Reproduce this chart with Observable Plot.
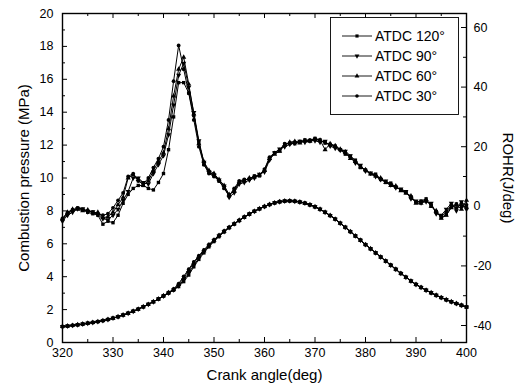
<!DOCTYPE html>
<html><head><meta charset="utf-8">
<script src="https://cdn.jsdelivr.net/npm/d3@7"></script>
<script src="https://cdn.jsdelivr.net/npm/@observablehq/plot@0.6"></script>
<style>html,body{margin:0;padding:0;background:#fff;} #chart{width:520px;height:392px;}</style>
</head><body><div id="chart"></div>
<script>
// Crank angle (deg), one sample per degree
const angles = d3.range(320, 401);
const seriesNames = ["ATDC 120°", "ATDC 90°", "ATDC 60°", "ATDC 30°"];

// Combustion pressure (MPa)
const p120 = [0.97,1.00,1.04,1.08,1.12,1.17,1.22,1.27,1.33,1.40,1.48,1.57,1.67,1.78,1.90,2.03,2.17,2.32,2.48,2.65,
2.82,3.00,3.18,3.40,3.70,4.10,4.60,5.05,5.45,5.82,6.14,6.44,6.72,6.97,7.19,7.41,7.61,7.80,7.97,8.12,
8.26,8.38,8.48,8.55,8.59,8.60,8.58,8.53,8.46,8.36,8.24,8.09,7.91,7.71,7.49,7.24,6.99,6.73,6.47,6.21,
5.94,5.69,5.44,5.19,4.94,4.69,4.44,4.19,3.96,3.73,3.52,3.34,3.17,3.01,2.86,2.72,2.59,2.47,2.36,2.25,2.15];
const p90 = [0.97,1.00,1.04,1.08,1.12,1.17,1.22,1.27,1.33,1.40,1.48,1.57,1.67,1.78,1.90,2.03,2.17,2.32,2.48,2.65,
2.83,3.01,3.20,3.45,3.80,4.22,4.70,5.12,5.52,5.87,6.18,6.47,6.74,6.99,7.21,7.42,7.62,7.81,7.98,8.13,
8.27,8.39,8.49,8.56,8.60,8.61,8.59,8.54,8.47,8.37,8.25,8.10,7.92,7.72,7.50,7.25,7.00,6.74,6.48,6.22,
5.95,5.70,5.45,5.20,4.95,4.70,4.45,4.20,3.97,3.74,3.53,3.35,3.18,3.02,2.87,2.73,2.60,2.48,2.37,2.26,2.16];
const p60 = [0.97,1.00,1.04,1.08,1.12,1.17,1.22,1.27,1.33,1.40,1.48,1.57,1.67,1.78,1.90,2.03,2.17,2.32,2.48,2.65,
2.84,3.02,3.22,3.52,3.92,4.38,4.84,5.22,5.58,5.92,6.22,6.50,6.76,7.00,7.22,7.43,7.63,7.81,7.98,8.13,
8.27,8.39,8.49,8.56,8.60,8.61,8.59,8.54,8.47,8.37,8.25,8.10,7.92,7.72,7.50,7.25,7.00,6.74,6.48,6.22,
5.95,5.70,5.45,5.20,4.95,4.70,4.45,4.20,3.97,3.74,3.53,3.35,3.18,3.02,2.87,2.73,2.60,2.48,2.37,2.26,2.16];
const p30 = [0.97,1.00,1.04,1.08,1.12,1.17,1.22,1.27,1.33,1.40,1.48,1.57,1.67,1.78,1.90,2.03,2.17,2.32,2.48,2.65,
2.85,3.04,3.26,3.58,4.02,4.46,4.90,5.28,5.63,5.96,6.25,6.52,6.78,7.01,7.23,7.44,7.64,7.82,7.99,8.14,
8.28,8.40,8.50,8.57,8.61,8.62,8.60,8.55,8.48,8.38,8.26,8.11,7.93,7.73,7.51,7.26,7.01,6.75,6.49,6.23,
5.96,5.71,5.46,5.21,4.96,4.71,4.46,4.21,3.98,3.75,3.54,3.36,3.19,3.03,2.88,2.74,2.61,2.49,2.38,2.27,2.17];

// Rate of heat release ROHR (J/deg)
const r120 = [-4.2,-2.2,-1.2,-0.6,-1.2,-2.0,-2.5,-3.0,-6.0,-5.0,
-5.5,-3.0,1.0,4.0,6.0,7.0,7.0,6.0,5.5,8.0,
11.0,19.0,30.0,41.5,41.5,38.0,30.5,21.5,14.0,11.5,
10.2,8.5,6.2,3.8,5.5,8.2,8.8,9.2,10.2,10.2,
12.2,16.2,17.8,18.6,20.8,21.2,21.0,21.5,22.3,22.0,
22.8,22.3,21.2,20.8,20.2,19.0,17.5,16.8,15.5,13.0,
12.2,11.0,10.8,9.0,8.0,7.8,6.5,5.5,4.5,3.2,
1.5,1.8,2.5,0.0,-1.8,-3.8,-2.8,0.0,0.8,0.0,-0.5];
const r90 = [-5.0,-3.0,-2.0,-0.8,-0.8,-1.8,-1.8,-2.8,-4.2,-4.5,
-3.0,-1.0,2.0,5.0,9.5,9.5,8.0,7.5,11.0,14.0,
17.0,24.0,34.0,44.0,48.0,40.0,31.5,22.0,14.8,11.5,
10.5,8.8,6.8,3.0,4.5,7.5,8.0,8.8,9.5,10.8,
11.5,15.5,18.0,19.2,20.0,20.8,21.2,21.8,21.5,22.0,
22.0,21.5,21.8,20.2,19.5,18.8,18.5,17.0,14.5,13.8,
11.8,11.2,10.0,9.0,8.5,7.2,6.2,5.8,5.0,2.5,
1.8,1.2,1.5,1.0,-2.5,-3.0,-1.0,1.0,-1.5,1.5,-1.0];
const r60 = [-4.0,-2.0,-1.0,-1.0,-1.5,-1.2,-2.2,-2.0,-3.8,-3.5,
-2.0,0.5,3.0,9.5,10.5,9.0,7.0,8.5,12.0,15.0,
18.0,26.0,37.0,46.0,50.0,41.0,31.0,21.0,15.0,12.0,
11.0,9.0,7.0,4.0,5.0,8.0,8.5,9.5,9.8,10.5,
12.0,16.0,17.5,18.5,20.5,21.5,21.8,21.2,22.0,21.8,
22.4,22.2,19.0,21.0,20.3,19.2,18.2,16.0,15.0,13.2,
12.3,10.8,10.2,9.5,8.0,7.0,6.8,5.2,4.5,3.5,
1.0,1.0,2.2,0.0,-1.5,-4.0,-3.0,-0.5,0.5,-1.0,2.0];
const r30 = [-4.5,-2.5,-1.5,-0.5,-1.0,-1.5,-2.0,-2.5,-3.0,-2.5,
-0.5,2.0,4.5,10.0,11.0,8.5,7.5,9.5,13.0,16.0,
20.0,29.0,42.0,54.0,46.0,38.0,29.0,20.0,14.0,11.0,
10.0,8.5,6.0,3.5,6.0,8.5,9.0,9.0,10.0,10.5,
12.5,16.5,18.0,19.0,21.0,21.0,21.5,21.8,22.0,22.3,
22.7,22.0,21.5,20.5,20.0,19.0,17.8,16.5,15.0,13.5,
12.0,11.0,10.5,9.3,8.2,7.5,6.5,5.5,4.8,3.0,
1.4,1.6,2.0,0.5,-2.0,-3.5,-2.0,0.5,-0.5,1.0,0.5];

// Tick values
const xTicks = [320,330,340,350,360,370,380,390,400];
const xMinor = [325,335,345,355,365,375,385,395];
const yTicks = [0,2,4,6,8,10,12,14,16,18,20];
const yMinor = [1,3,5,7,9,11,13,15,17,19];
const rTicks = [-40,-20,0,20,40,60];
const rMinor = [-30,-10,10,30,50];

// Right axis (ROHR) shares the frame with the pressure axis
const rDomain = [-45.7, 64.7];
const pDomain = [0, 20];
const toP = r => pDomain[0] + (r - rDomain[0]) * (pDomain[1] - pDomain[0]) / (rDomain[1] - rDomain[0]);
const toR = p => rDomain[0] + (p - pDomain[0]) * (rDomain[1] - rDomain[0]) / (pDomain[1] - pDomain[0]);

const pSeries = [p120, p90, p60, p30];
const rSeries = [r120, r90, r60, r30];
const rows = [];
seriesNames.forEach((s, i) => angles.forEach((a, j) => rows.push({s, angle: a, p: pSeries[i][j], r: rSeries[i][j]})));

const sqrt3 = Math.sqrt(3);
const triDown = {draw(ctx, size) {
  const y = -Math.sqrt(size / (sqrt3 * 3));
  ctx.moveTo(0, -y * 2);
  ctx.lineTo(-sqrt3 * y, y);
  ctx.lineTo(sqrt3 * y, y);
  ctx.closePath();
}};
const symbolRange = [d3.symbolSquare, triDown, d3.symbolTriangle, d3.symbolCircle];

const font = "'Liberation Sans', Arial, Helvetica, sans-serif";
const W = 520, H = 392, ML = 62, MR = 54, MT = 13, MB = 50;
const FW = W - ML - MR, FH = H - MT - MB;
const T = 5, t = 3;

const chart = Plot.plot({
  width: W, height: H,
  marginLeft: ML, marginRight: MR, marginTop: MT, marginBottom: MB,
  style: {fontFamily: font, fontSize: "12.5px", background: "white", color: "black"},
  x: {domain: [320, 400]},
  y: {domain: pDomain},
  symbol: {domain: seriesNames, range: symbolRange},
  marks: [
    Plot.line(rows, {x: "angle", y: "p", z: "s", stroke: "black", strokeWidth: 1}),
    Plot.dot(rows, {x: "angle", y: "p", symbol: "s", fill: "black", r: 1.9}),
    Plot.line(rows, {x: "angle", y: d => toP(d.r), z: "s", stroke: "black", strokeWidth: 1}),
    Plot.dot(rows, {x: "angle", y: d => toP(d.r), symbol: "s", fill: "black", r: 1.9}),
    // axis labels
    Plot.axisX(xTicks, {anchor: "bottom", tickSize: 0, tickPadding: 6, label: null, fontSize: 12.5}),
    Plot.axisY(yTicks, {anchor: "left", tickSize: 0, tickPadding: 9, label: null, fontSize: 12.5}),
    Plot.axisY(rTicks.map(toP), {anchor: "right", tickSize: 0, tickPadding: 7, label: null, fontSize: 12.5,
      tickFormat: p => String(Math.round(toR(p)))}),
    // inward ticks
    Plot.ruleX(xTicks, {x: d => d, insetTop: FH - T, stroke: "black"}),
    Plot.ruleX(xMinor, {x: d => d, insetTop: FH - t, stroke: "black"}),
    Plot.ruleX(xTicks, {x: d => d, insetBottom: FH - T, stroke: "black"}),
    Plot.ruleX(xMinor, {x: d => d, insetBottom: FH - t, stroke: "black"}),
    Plot.ruleY(yTicks, {y: d => d, insetRight: FW - T, stroke: "black"}),
    Plot.ruleY(yMinor, {y: d => d, insetRight: FW - t, stroke: "black"}),
    Plot.ruleY(rTicks.map(toP), {y: d => d, insetLeft: FW - T, stroke: "black"}),
    Plot.ruleY(rMinor.map(toP), {y: d => d, insetLeft: FW - t, stroke: "black"}),
    Plot.frame({stroke: "black", strokeWidth: 1.4}),
    Plot.text(["Crank angle(deg)"], {frameAnchor: "bottom", dy: 37, fontSize: 15}),
    Plot.text(["Combustion pressure (MPa)"], {frameAnchor: "left", textAnchor: "middle", dx: -38, rotate: -90, fontSize: 15}),
    Plot.text(["ROHR(J/deg)"], {frameAnchor: "right", textAnchor: "middle", dx: 41, rotate: 90, fontSize: 15})
  ]
});
document.getElementById("chart").appendChild(chart);

// Legend box inside the plot
const svg = d3.select(chart);
const lg = svg.append("g").attr("font-family", font).attr("font-size", 14).attr("text-anchor", "start");
lg.append("rect").attr("x", 330.5).attr("y", 17.5).attr("width", 128).attr("height", 97)
  .attr("fill", "white").attr("stroke", "black").attr("stroke-width", 0.9);
seriesNames.forEach((name, i) => {
  const yy = 36 + i * 20;
  lg.append("line").attr("x1", 342).attr("x2", 372).attr("y1", yy).attr("y2", yy)
    .attr("stroke", "black").attr("stroke-width", 0.9);
  lg.append("path").attr("transform", `translate(357,${yy})`)
    .attr("d", d3.symbol(symbolRange[i], 10)()).attr("fill", "black");
  lg.append("text").attr("x", 375).attr("y", yy).attr("dy", "0.35em").attr("text-anchor", "start").text(name);
});
</script>
</body></html>
